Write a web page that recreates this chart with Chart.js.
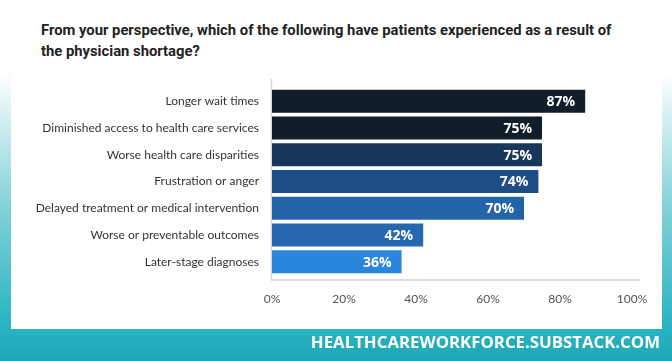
<!DOCTYPE html>
<html>
<head>
<meta charset="utf-8">
<script src="https://cdn.jsdelivr.net/npm/chart.js@4"></script>
<style>
  html, body { margin: 0; padding: 0; }
  body {
    width: 672px; height: 361px; position: relative; overflow: hidden;
    background: linear-gradient(to bottom, #ffffff 0%, #ffffff 20%, #8ad4db 55%, #2db6c4 88%, #1ea7b6 100%);
    font-family: "Open Sans", sans-serif;
  }
  #panel { position: absolute; left: 11px; top: 0; width: 651px; height: 329px; background: #fff; }
  #title {
    position: absolute; left: 41px; top: 20px; width: 620px;
    font-family: Roboto, sans-serif; font-weight: bold; font-size: 14.8px; line-height: 21px; color: #222;
  }
  #footer {
    position: absolute; right: 12px; top: 330px;
    font-family: "Open Sans", sans-serif; font-weight: bold; font-size: 16.8px; color: #fff;
  }
  #wrap { position: absolute; left: 0; top: 0; width: 672px; height: 361px; }
</style>
</head>
<body>
<div id="panel"></div>
<div id="title">From your perspective, which of the following have patients experienced as a result of<br>the physician shortage?</div>
<div id="wrap"><canvas id="chart"></canvas></div>
<div id="footer">HEALTHCAREWORKFORCE.SUBSTACK.COM</div>
<script>
const categories = [
  "Longer wait times",
  "Diminished access to health care services",
  "Worse health care disparities",
  "Frustration or anger",
  "Delayed treatment or medical intervention",
  "Worse or preventable outcomes",
  "Later-stage diagnoses"
];
const values = [87, 75, 75, 74, 70, 42, 36];
const barColors = ["#111d28", "#111d28", "#17375a", "#1c4d85", "#2363a8", "#2568b0", "#2a85dd"];
const tickValues = [0, 20, 40, 60, 80, 100];

// axis lines drawn a bit longer than the chart area, like the original
const frameLines = {
  id: "frameLines",
  beforeDatasetsDraw(chart) {
    const { ctx, chartArea } = chart;
    ctx.save();
    ctx.strokeStyle = "#cfd3dc";
    ctx.lineWidth = 1.5;
    ctx.beginPath();
    ctx.moveTo(chartArea.left - 0.5, chartArea.top - 9);
    ctx.lineTo(chartArea.left - 0.5, chartArea.bottom + 5);
    ctx.lineTo(chartArea.right + 8, chartArea.bottom + 5);
    ctx.stroke();
    ctx.restore();
  }
};

// value labels inside the end of each bar
const barLabels = {
  id: "barLabels",
  afterDatasetsDraw(chart) {
    const { ctx } = chart;
    const meta = chart.getDatasetMeta(0);
    ctx.save();
    ctx.fillStyle = "#ffffff";
    ctx.font = "bold 14px 'Open Sans', sans-serif";
    ctx.textAlign = "right";
    ctx.textBaseline = "middle";
    meta.data.forEach((bar, i) => {
      ctx.fillText(values[i] + "%", bar.x - 10, bar.y + 1);
    });
    ctx.restore();
  }
};

new Chart(document.getElementById("chart"), {
  type: "bar",
  data: {
    labels: categories,
    datasets: [{
      data: values,
      backgroundColor: barColors,
      borderWidth: 0,
      categoryPercentage: 1,
      barPercentage: 0.86
    }]
  },
  options: {
    indexAxis: "y",
    responsive: true,
    maintainAspectRatio: false,
    animation: false,
    layout: { padding: { left: 0, right: 40, top: 88, bottom: 0 } },
    plugins: { legend: { display: false }, tooltip: { enabled: false } },
    scales: {
      x: {
        min: 0,
        max: 100,
        afterBuildTicks(scale) { scale.ticks = tickValues.map(v => ({ value: v })); },
        afterFit(scale) { scale.height = 86; },
        grid: { display: false, drawTicks: false },
        border: { display: false },
        ticks: {
          padding: 17,
          color: "#555",
          font: { family: "Lato, sans-serif", size: 12 },
          callback: v => v + "%"
        }
      },
      y: {
        afterFit(scale) { scale.width = 272; },
        grid: { display: false, drawTicks: false },
        border: { display: false },
        ticks: {
          padding: 13,
          color: "#333",
          font: { family: "Lato, sans-serif", size: 12 }
        }
      }
    }
  },
  plugins: [frameLines, barLabels]
});
</script>
</body>
</html>
